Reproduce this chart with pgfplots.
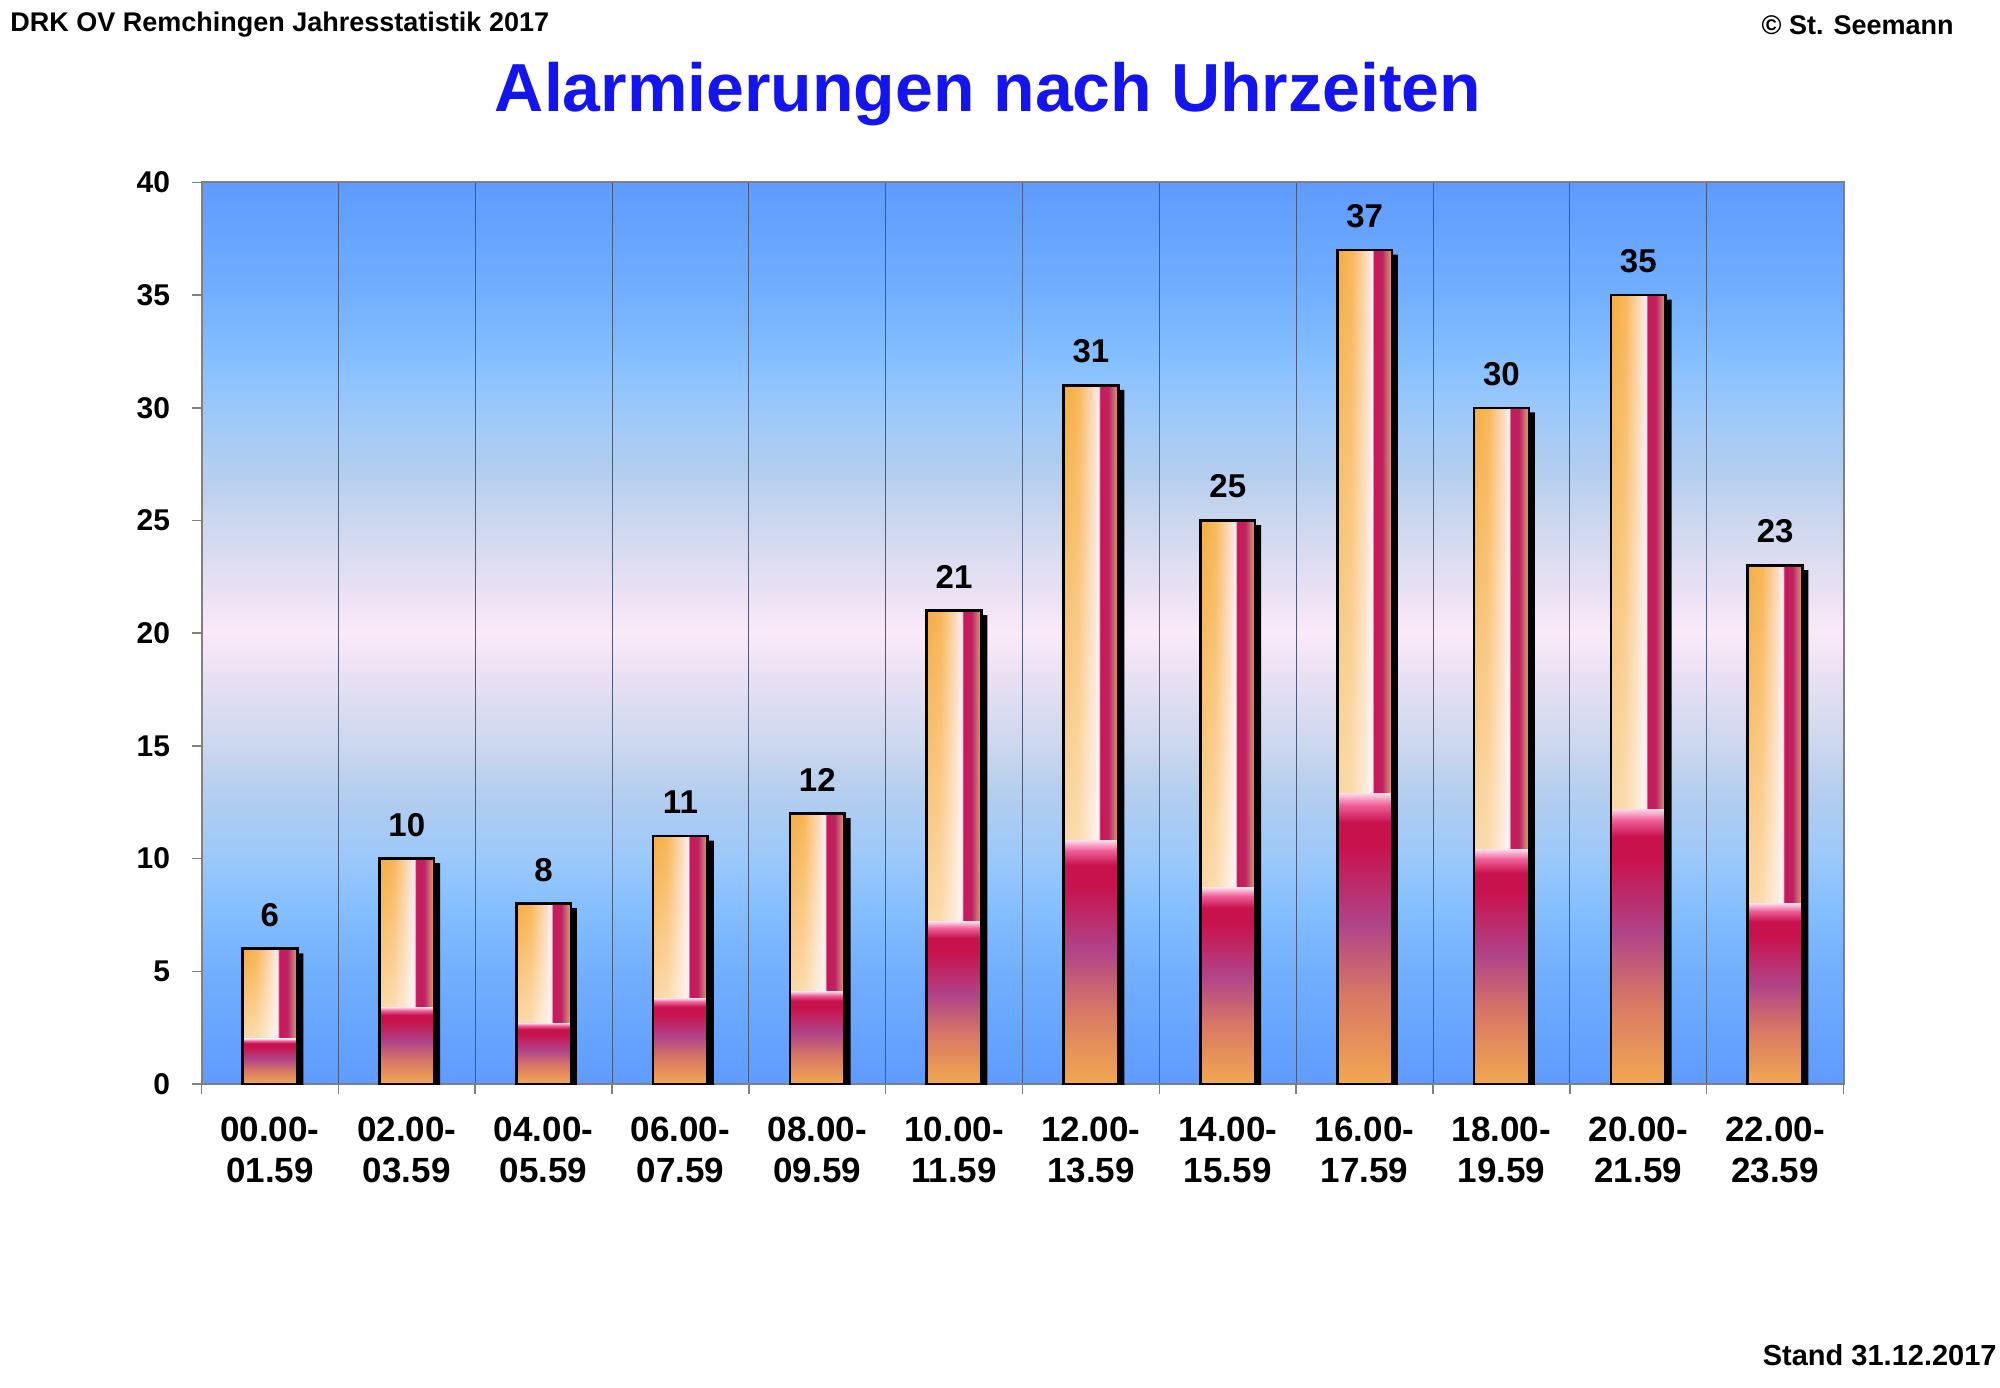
\documentclass[border=0pt]{standalone}
\usepackage{pgfplots}
\usepackage{pgfplotstable}
\pgfplotsset{compat=1.18}
\usepackage{fontspec}
\setmainfont{Liberation Sans}
\usetikzlibrary{fadings}

\definecolor{oA}{HTML}{F5AC45}
\definecolor{oB}{HTML}{F8B758}
\definecolor{oC}{HTML}{FDDCC0}
\definecolor{wP}{HTML}{FFF0F2}
\definecolor{cR}{HTML}{C8185A}
\definecolor{cR2}{HTML}{BF2262}
\definecolor{mV}{HTML}{C86070}
\definecolor{oE}{HTML}{E8A060}
\definecolor{lO}{HTML}{F2A850}
\definecolor{lM}{HTML}{D87865}
\definecolor{lP}{HTML}{B04488}
\definecolor{lC}{HTML}{C8124E}
\definecolor{lK}{HTML}{F0609A}
\definecolor{lW}{HTML}{FFD8E6}
\definecolor{bg0}{HTML}{5E9BFF}
\definecolor{bg1}{HTML}{72AFFF}
\definecolor{bg2}{HTML}{86C0FF}
\definecolor{bg3}{HTML}{9BC8FA}
\definecolor{bg4}{HTML}{B5CEEE}
\definecolor{bg5}{HTML}{CCD7EE}
\definecolor{bg6}{HTML}{E8E0F3}
\definecolor{bg7}{HTML}{FAEAF8}
\definecolor{gridc}{HTML}{4A5A78}
\definecolor{titleblue}{HTML}{1414EE}

\pgfdeclarehorizontalshading{barH}{100bp}{color(0bp)=(oA); color(25bp)=(oA); color(38bp)=(oB); color(52bp)=(oC); color(57bp)=(wP); color(58.5bp)=(cR); color(66bp)=(cR2); color(70bp)=(mV); color(75bp)=(oE); color(100bp)=(oE)}
\pgfdeclareverticalshading{barV}{100bp}{color(0bp)=(lO); color(25bp)=(lO); color(40bp)=(lM); color(52.5bp)=(lP); color(66bp)=(lC); color(70bp)=(lC); color(73bp)=(lK); color(75bp)=(lW); color(100bp)=(lW)}
\pgfdeclareverticalshading{bgV}{100bp}{color(0bp)=(bg0); color(25bp)=(bg0); color(31.25bp)=(bg1); color(35bp)=(bg2); color(37.5bp)=(bg3); color(41.25bp)=(bg4); color(43.75bp)=(bg5); color(47.5bp)=(bg6); color(50bp)=(bg7); color(52.5bp)=(bg6); color(56.25bp)=(bg5); color(58.75bp)=(bg4); color(62.5bp)=(bg3); color(65bp)=(bg2); color(68.75bp)=(bg1); color(75bp)=(bg0); color(100bp)=(bg0)}

\pgfplotstableread{
x y low
0 6 2.0
1 10 3.4
2 8 2.7
3 11 3.8
4 12 4.1
5 21 7.2
6 31 10.8
7 25 8.7
8 37 12.9
9 30 10.4
10 35 12.2
11 23 8.0
}\datatable

\begin{document}
\begin{tikzpicture}
\path (0pt,0pt) rectangle (1000pt,693.5pt);
\begin{axis}[
  at={(100.75pt,151.5pt)}, anchor=south west,
  scale only axis, width=821pt, height=450.75pt,
  xmin=-0.5, xmax=11.5, ymin=0, ymax=40,
  /pgf/number format/assume math mode=true,
  ytick={0,5,...,40},
  xtick={-0.5,0.5,...,11.5}, xticklabels={},
  xtick pos=bottom, ytick pos=left,
  xmajorgrids,
  major grid style={color=gridc, line width=0.5pt},
  extra x ticks={0,1,...,11},
  extra x tick labels={{00.00-\\01.59},{02.00-\\03.59},{04.00-\\05.59},{06.00-\\07.59},{08.00-\\09.59},{10.00-\\11.59},{12.00-\\13.59},{14.00-\\15.59},{16.00-\\17.59},{18.00-\\19.59},{20.00-\\21.59},{22.00-\\23.59}},
  extra x tick style={grid=none, major tick length=0pt},
  xticklabel style={align=center, font=\fontsize{17.5}{20.5}\selectfont\bfseries, inner sep=0pt, anchor=north, yshift=-16.5pt},
  yticklabel style={font=\fontsize{15}{18}\selectfont\bfseries, inner sep=0pt, anchor=east, xshift=-10.5pt},
  tick align=outside, major tick length=5pt,
  tick style={color=gray, line width=0.8pt},
  axis line style={color=gray, line width=1pt},
  axis background/.style={shading=bgV},
]
% shadows
\addplot[ybar, bar width=0.4, bar shift=0pt, draw=none, fill=black,
  transform canvas={xshift=3pt, yshift=-2.25pt}, forget plot]
  table[x=x, y=y] {\datatable};
% shaded bars, one path per bar
\pgfplotsinvokeforeach{-0.2:0.2, 0.8:1.2, 1.8:2.2, 2.8:3.2, 3.8:4.2, 4.8:5.2, 5.8:6.2, 6.8:7.2, 7.8:8.2, 8.8:9.2, 9.8:10.2, 10.8:11.2}{
  \addplot[ybar, bar width=0.4, bar shift=0pt, draw=none, shading=barH,
    restrict x to domain=#1, forget plot]
    table[x=x, y=y] {\datatable};
  \addplot[ybar, bar width=0.25, bar shift=-0.075, draw=none, fill=white, fill opacity=0.8,
    path fading=north, restrict x to domain=#1, forget plot]
    table[x=x, y=y] {\datatable};
  \addplot[ybar, bar width=0.4, bar shift=0pt, draw=none, shading=barV,
    restrict x to domain=#1, forget plot]
    table[x=x, y=low] {\datatable};
}
% outlines and value labels
\addplot[ybar, bar width=0.4, bar shift=0pt, draw=black, line width=1.3pt, fill=none,
  nodes near coords,
  every node near coord/.append style={font=\fontsize{16.5}{19}\selectfont\bfseries, text=black, anchor=south, inner sep=0pt, yshift=10.5pt}]
  table[x=x, y=y] {\datatable};
\end{axis}
\node[font=\fontsize{13.5}{16}\selectfont\bfseries, anchor=west, inner sep=0pt] at (5pt,681pt) {DRK OV Remchingen Jahresstatistik 2017};
\node[font=\fontsize{13.5}{16}\selectfont\bfseries, anchor=east, inner sep=0pt] at (977pt,681pt) {© St. Seemann};
\node[font=\fontsize{14.5}{16}\selectfont\bfseries, anchor=base east, inner sep=0pt] at (998.5pt,11pt) {Stand 31.12.2017};
\node[font=\fontsize{34}{40}\selectfont\bfseries, text=titleblue, anchor=base, inner sep=0pt] at (494pt,637.5pt) {Alarmierungen nach Uhrzeiten};
\end{tikzpicture}
\end{document}
